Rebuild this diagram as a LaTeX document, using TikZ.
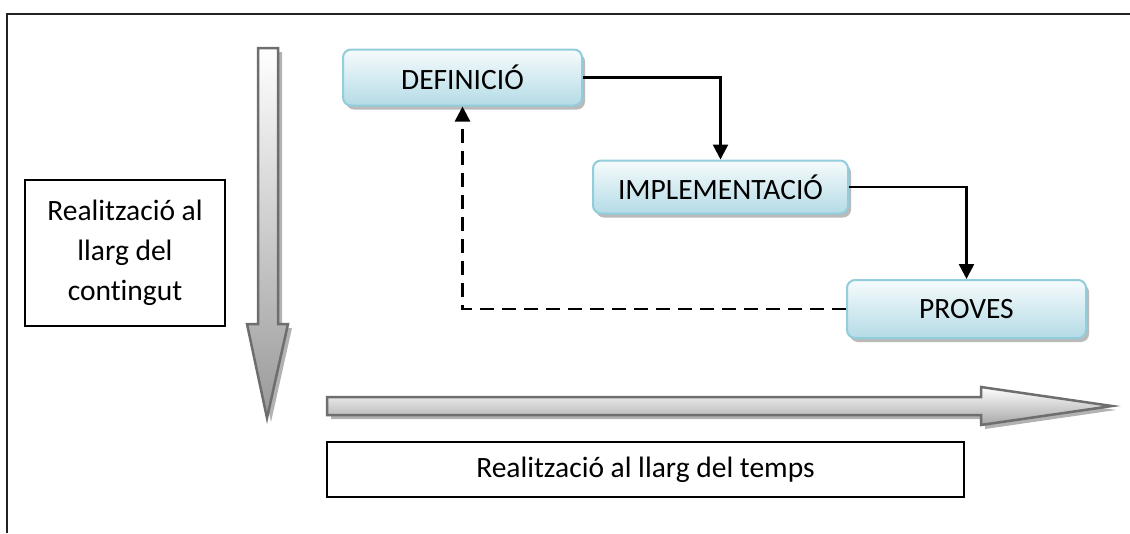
\documentclass[tikz,border=0pt]{standalone}
\usepackage{fontspec}
\setmainfont{Carlito}[Ligatures={NoCommon}]
\usetikzlibrary{arrows.meta,shadows,calc}
\definecolor{boxborder}{HTML}{92CDDC}
\definecolor{boxtop}{HTML}{F6FBFC}
\definecolor{boxbot}{HTML}{B4DBE6}
\definecolor{arrowedge}{HTML}{6E6E6E}
\definecolor{framecol}{HTML}{222222}
\tikzset{
  phase/.style={draw=boxborder, line width=2pt, rounded corners=8pt,
    top color=boxtop, bottom color=boxbot, minimum width=#1, minimum height=56pt,
    font=\fontsize{29.5}{35}\selectfont, inner sep=0pt,
    drop shadow={shadow xshift=3pt, shadow yshift=-4pt, fill=black!45, opacity=0.6}},
  textbox/.style={draw=black, line width=2pt, fill=white, inner sep=0pt,
    font=\fontsize{29.5}{40}\selectfont, align=center},
  flow/.style={line width=2.5pt, -{Triangle[width=15pt,length=15pt]}},
  back/.style={flow, dash pattern=on 14pt off 8pt},
  bigarrow/.style={draw=arrowedge, line width=2.5pt, line join=miter},
}
\begin{document}
\begin{tikzpicture}[x=1pt,y=-1pt]
\useasboundingbox (0,0) rectangle (1130,533);
% frame
\draw[framecol, line width=2pt] (7,533) -- (7,14) -- (1130,14);

% vertical big arrow (shadow + shape)
\fill[black!30] (262,52) -- (282,52) -- (282,328) -- (292,328) -- (271,422) -- (251,328) -- (262,328) -- cycle;
\draw[bigarrow, top color=white, bottom color=black!40]
  (258,48) -- (278,48) -- (278,324) -- (288,324) -- (267,418) -- (247,324) -- (258,324) -- cycle;

% horizontal big arrow
\fill[black!30] (331,401) -- (985,401) -- (985,391) -- (1116,410) -- (985,429) -- (985,419) -- (331,419) -- cycle;
\draw[bigarrow, top color=white, bottom color=black!35]
  (327,397) -- (981,397) -- (981,387) -- (1112,406) -- (981,425) -- (981,415) -- (327,415) -- cycle;

% text boxes
\node[textbox, minimum width=200pt, minimum height=146pt] (cont) at (125,253)
  {Realització al\\llarg del\\contingut};
\node[textbox, minimum width=637pt, minimum height=55pt] (temps) at (645.5,469.5)
  {Realització al llarg del temps};

% phases
\node[phase=239pt] (def) at (462.5,77.5) {DEFINICIÓ};
\node[phase=255pt, minimum height=53pt] (impl) at (720.5,187) {IMPLEMENTACIÓ};
\node[phase=239pt, minimum height=58pt] (prov) at (966.5,309) {PROVES};

% connectors
\draw[flow] (def.east) -| (impl.north);
\draw[flow] (impl.east) -| (prov.north);
\draw[back] (prov.west) -| (def.south);
\end{tikzpicture}
\end{document}
